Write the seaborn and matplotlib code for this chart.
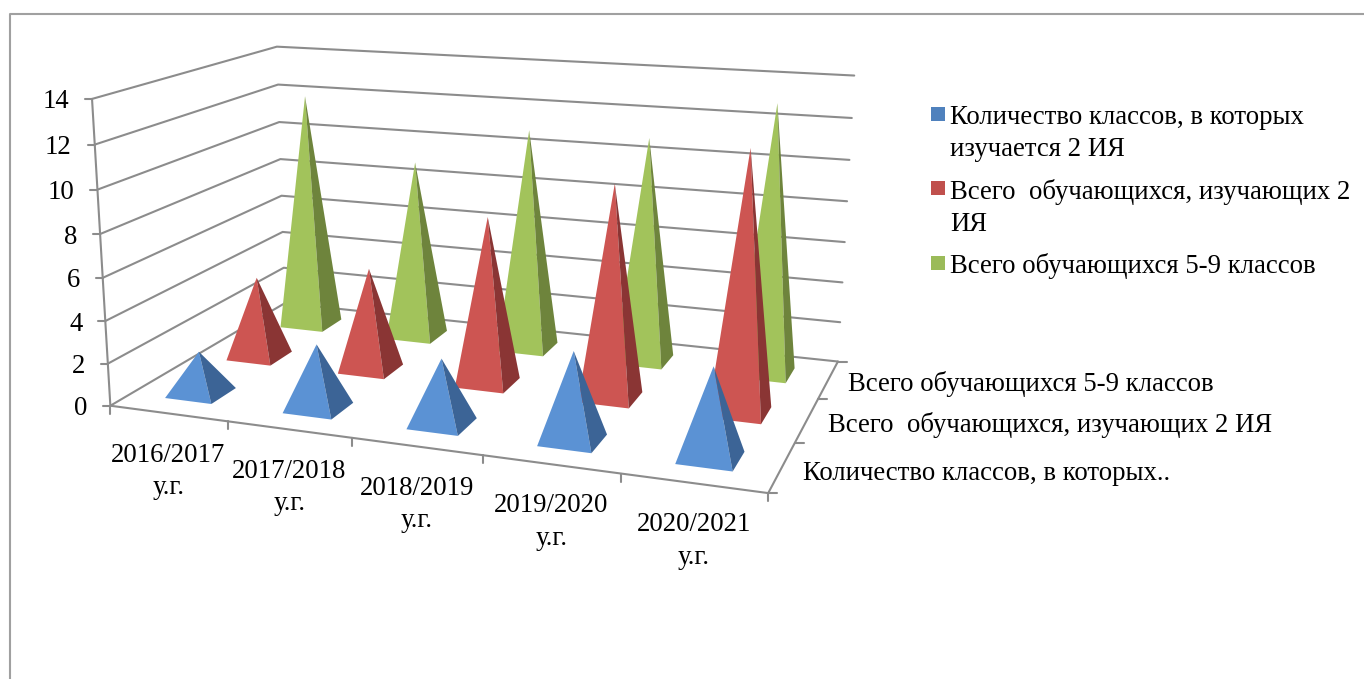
import numpy as np
import pandas as pd
import matplotlib
matplotlib.use("Agg")
import matplotlib.pyplot as plt
from matplotlib.patches import Rectangle
import seaborn as sns

years = ["2016/2017\nу.г.", "2017/2018\nу.г.", "2018/2019\nу.г.", "2019/2020\nу.г.", "2020/2021\nу.г."]
series_legend = ["Количество классов, в которых\nизучается 2 ИЯ", "Всего  обучающихся, изучающих 2\nИЯ", "Всего обучающихся 5-9 классов"]
series_axis = ["Количество классов, в которых..", "Всего  обучающихся, изучающих 2 ИЯ", "Всего обучающихся 5-9 классов"]
classes_count = [2, 3, 3, 4, 4]
students_lang = [4, 5, 8, 10, 12]
students_total = [12, 9, 11, 11, 13]
value_ticks = [0, 2, 4, 6, 8, 10, 12, 14]

sns.set_style("white")
plt.rcParams["font.family"] = ["Liberation Serif", "DejaVu Serif"]
plt.rcParams["text.color"] = "black"
FS = 19.3

legend_colors = ["#4F81BD", "#C0504D", "#9BBB59"]
front_colors = ["#5B92D4", "#CD5552", "#A2C35B"]
side_colors = ["#3C6496", "#8A3534", "#6E843C"]
line_color = "#8C8C8C"

# camera of the 3d box: (u, v, value) -> picture pixel, fitted on the box corners
wall_a = [(110, 406), (108, 364), (105, 321), (103, 278), (100, 234), (97, 189), (96, 144), (92, 99)]
wall_b = [(285, 302), (284, 268), (283, 232), (282, 196), (280, 160), (279, 122), (277, 84.5), (277, 46.5)]
wall_c = [(838, 362), (840, 322), (842, 282), (845, 242), (847, 201), (850, 160), (852, 118), (854, 76)]
anchors = []
for z, a, b, c in zip(value_ticks, wall_a, wall_b, wall_c):
    anchors += [(0, 0, z, *a), (0, 1, z, *b), (1, 1, z, *c)]
front_px = [(228, 421.6), (352, 438), (483, 455.3), (621, 473.6), (768, 493)]
for i, p in enumerate(front_px):
    anchors.append(((i + 1) / 5, 0, 0, *p))
anchors += [(1, 1 / 3, 0, 795, 443), (1, 2 / 3, 0, 818, 399)]

rows = []
for u, v, z, x, y in anchors:
    rows.append([u, v, z, 1, 0, 0, 0, 0, -x * u, -x * v, -x * z, -x])
    rows.append([0, 0, 0, 0, u, v, z, 1, -y * u, -y * v, -y * z, -y])
cam = np.linalg.svd(np.array(rows, dtype=float))[2][-1].reshape(3, 4)


def project(u, v, z):
    p = cam @ np.array([u, v, z, 1.0])
    return p[0] / p[2], p[1] / p[2]


fig = plt.figure(figsize=(13.64, 6.79), dpi=100)
ax = fig.add_axes([0, 0, 1, 1])

# box lines
segs = []
for z in value_ticks:
    a, b, c = project(0, 0, z), project(0, 1, z), project(1, 1, z)
    segs.append([a, b, c])
    segs.append([(a[0] - 7, a[1]), a])
segs.append([project(0, 0, 0), project(0, 0, 14)])
segs.append([project(0, 0, 0), project(1, 0, 0), project(1, 1, 0)])
for i in range(6):
    x, y = project(i / 5, 0, 0)
    segs.append([(x, y), (x, y + 8)])
for j in range(4):
    x, y = project(1, j / 3, 0)
    segs.append([(x, y), (x + 9, y)])
frame = pd.DataFrame(
    [(k, x, y) for k, s in enumerate(segs) for x, y in s], columns=["seg", "px", "py"]
)
sns.lineplot(data=frame, x="px", y="py", units="seg", estimator=None, sort=False,
             color=line_color, linewidth=1.5, legend=False, ax=ax)

# pyramids, back row first
all_values = [classes_count, students_lang, students_total]
half = 0.4 / 2
for j in [2, 1, 0]:
    for i, val in enumerate(all_values[j]):
        uc, vc = (i + 0.5) / 5, (j + 0.5) / 3
        du, dv = half / 5, half / 3
        fl = project(uc - du, vc - dv, 0)
        fr = project(uc + du, vc - dv, 0)
        br = project(uc + du, vc + dv, 0)
        top = project(uc, vc, val)
        ax.fill(*zip(fl, fr, top), color=front_colors[j], lw=0, zorder=3)
        ax.fill(*zip(fr, br, top), color=side_colors[j], lw=0, zorder=3)

# axis texts
for z in value_ticks:
    x, y = project(0, 0, z)
    ax.text(x - 23, y + 3, str(z), ha="right", va="center", fontsize=FS, color="black")
for i, lab in enumerate(years):
    x, y = project((i + 0.5) / 5, 0, 0)
    ax.text(x, y + 58, lab, ha="center", va="center", fontsize=FS, linespacing=1.4)
for lab, (px, py) in zip(series_axis, [(803, 473), (828, 425), (848, 384)]):
    ax.text(px, py, lab, ha="left", va="center", fontsize=FS)

# legend
for c, lab, sq_y, txt_y in zip(legend_colors, series_legend, [107, 181, 256], [105, 179, 253]):
    ax.add_patch(Rectangle((931, sq_y), 14, 14, color=c, lw=0))
    ax.text(950, txt_y, lab, ha="left", va="top", fontsize=FS, linespacing=1.37)

# outer frame, cut by the picture edge
ax.plot([10, 10, 1364], [679, 14, 14], color="#A0A0A0", lw=1.5)

ax.set_xlim(0, 1364)
ax.set_ylim(679, 0)
ax.set_axis_off()
fig.savefig("out.png", dpi=100)
